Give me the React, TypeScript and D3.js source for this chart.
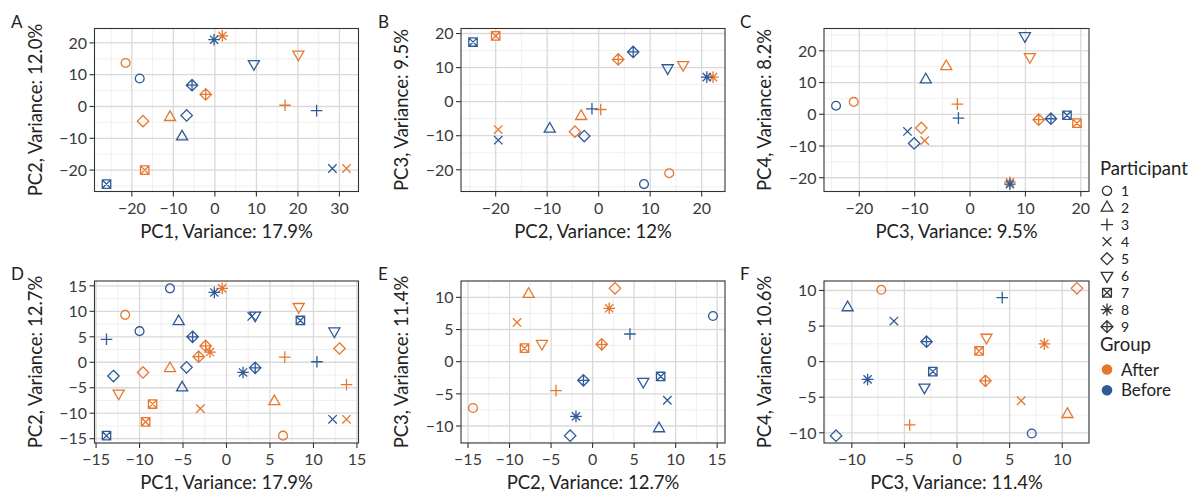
import React from 'react';
import * as d3 from 'd3';

// samples: participant 1..9, each with an After and a Before sample
const participant = [1, 1, 2, 2, 3, 3, 4, 4, 5, 5, 6, 6, 7, 7, 8, 8, 9, 9];
const group = ['After', 'Before', 'After', 'Before', 'After', 'Before', 'After', 'Before', 'After', 'Before',
    'After', 'Before', 'After', 'Before', 'After', 'Before', 'After', 'Before'];

// top row PCA
const topPC1 = [-21.5, -18.1, -10.8, -7.9, 16.9, 24.5, 31.7, 28.3, -17.3, -6.8, 20.1, 9.4, -16.9, -26.1, 1.8, -0.2, -2.2, -5.5];
const topPC2 = [13.7, 8.8, -3.4, -9.5, 0.4, -1.3, -19.5, -19.5, -4.6, -2.8, 16.4, 13.4, -20.0, -24.4, 22.2, 21.0, 3.8, 6.7];
const topPC3 = [-21.0, -24.2, -4.3, -8.0, -2.3, -2.1, -8.2, -11.3, -8.8, -10.1, 10.8, 9.9, 19.3, 17.5, 7.2, 7.2, 12.4, 14.6];
const topPC4 = [3.9, 2.7, 15.1, 10.9, 3.2, -1.2, -8.3, -5.4, -4.3, -9.2, 18.1, 24.7, -2.8, -0.3, -21.4, -22.0, -1.7, -1.4];

// bottom row PCA
const botPC1 = [6.5, -6.5, 5.5, -5.5, 13.8, -13.8, -3.0, 2.9, 13.0, -13.0, -12.4, 12.4, -8.5, 8.5, -1.9, 1.9, -3.2, 3.3];
const botPC2 = [-14.4, 14.5, -7.7, 8.0, -4.4, 4.5, -9.1, 9.0, 2.7, -2.7, -6.1, 6.1, -8.2, 8.2, 2.0, -2.0, 1.1, -1.1];
const botPC3 = [-7.2, 7.1, 10.5, -10.4, -4.5, 4.3, 6.1, -6.0, 11.4, -11.5, 2.8, -3.1, 2.1, -2.3, 8.3, -8.5, 2.7, -2.9];
const botPC4 = [10.1, -10.1, -7.4, 7.6, -8.9, 9.0, -5.5, 5.7, 10.3, -10.4, 3.4, -3.6, 1.5, -1.4, 2.5, -2.5, -2.7, 2.8];

// second set of samples shown in panel D only
const dExtraX = [-11.65, -10.0, -6.5, -5.1, 6.7, 10.4, 13.8, 12.2, -9.6, -4.6, 8.3, 3.3, -9.3, -13.8, -0.5, -1.4, -2.4, -3.9];
const dExtraY = [9.3, 6.1, -1.2, -5.0, 1.0, 0.1, -11.2, -11.2, -2.0, -1.0, 10.9, 9.2, -11.7, -14.4, 14.5, 13.7, 3.2, 5.0];

const ticks20 = [-20, -10, 0, 10, 20];
const ticksA = [-20, -10, 0, 10, 20, 30];
const ticks15 = [-15, -10, -5, 0, 5, 10, 15];
const ticks10 = [-10, -5, 0, 5, 10];

const groups = ['After', 'Before'];
const colors = {After: '#E8772E', Before: '#2E5A97'};
const FONT = "Lato, 'Open Sans', sans-serif";

function Marker({shape, x, y, color, k = 1}) {
    const c = 4.4 * k, t = 6.4 * k, p = 5.8 * k, q = 4.2 * k, d = 5.7 * k, s = 4.2 * k, a = 4.1 * k;
    const tw = t * 0.866, th = t / 2;
    let el;
    switch (shape) {
        case 1: el = <circle r={c}/>; break;
        case 2: el = <path d={`M0,${-t}L${tw},${th}L${-tw},${th}Z`}/>; break;
        case 3: el = <path d={`M${-p},0H${p}M0,${-p}V${p}`}/>; break;
        case 4: el = <path d={`M${-q},${-q}L${q},${q}M${-q},${q}L${q},${-q}`}/>; break;
        case 5: el = <path d={`M0,${-d}L${d},0L0,${d}L${-d},0Z`}/>; break;
        case 6: el = <path d={`M0,${t}L${tw},${-th}L${-tw},${-th}Z`}/>; break;
        case 7: el = <path d={`M${-s},${-s}H${s}V${s}H${-s}ZM${-s},${-s}L${s},${s}M${-s},${s}L${s},${-s}`}/>; break;
        case 8: el = <path d={`M${-p},0H${p}M0,${-p}V${p}M${-a},${-a}L${a},${a}M${-a},${a}L${a},${-a}`}/>; break;
        default: el = <path d={`M0,${-d}L${d},0L0,${d}L${-d},0ZM${-d},0H${d}M0,${-d}V${d}`}/>;
    }
    return (
        <g transform={`translate(${x},${y})`} fill="none" stroke={color} strokeWidth={1.3}>
            {el}
        </g>
    );
}

function paddedDomain(values) {
    const [lo, hi] = d3.extent(values);
    const pad = (hi - lo) * 0.05;
    return [lo - pad, hi + pad];
}

function minorTicks(ticks, domain) {
    const step = ticks[1] - ticks[0];
    return d3.range(ticks[0] - step / 2, ticks[ticks.length - 1] + step, step)
        .filter(v => v >= domain[0] && v <= domain[1]);
}

const fmt = v => (v < 0 ? '\u2212' + Math.abs(v) : String(v));

function Panel({cfg}) {
    const {left, right, top, bottom} = cfg;
    const allX = cfg.x.concat(cfg.extraX || []);
    const allY = cfg.y.concat(cfg.extraY || []);
    const xDom = paddedDomain(allX), yDom = paddedDomain(allY);
    const xScale = d3.scaleLinear().domain(xDom).range([left, right]);
    const yScale = d3.scaleLinear().domain(yDom).range([bottom, top]);
    const xMinor = minorTicks(cfg.xTicks, xDom);
    const yMinor = minorTicks(cfg.yTicks, yDom);
    const midY = (top + bottom) / 2, midX = (left + right) / 2;

    return (
        <g>
            <rect x={left} y={top} width={right - left} height={bottom - top} fill="#fff"/>
            {xMinor.map(v => <line key={'xm' + v} x1={xScale(v)} x2={xScale(v)} y1={top} y2={bottom} stroke="#ebebeb" strokeWidth={0.8}/>)}
            {yMinor.map(v => <line key={'ym' + v} y1={yScale(v)} y2={yScale(v)} x1={left} x2={right} stroke="#ebebeb" strokeWidth={0.8}/>)}
            {cfg.xTicks.map(v => <line key={'xg' + v} x1={xScale(v)} x2={xScale(v)} y1={top} y2={bottom} stroke="#d9d9d9" strokeWidth={1.3}/>)}
            {cfg.yTicks.map(v => <line key={'yg' + v} y1={yScale(v)} y2={yScale(v)} x1={left} x2={right} stroke="#d9d9d9" strokeWidth={1.3}/>)}
            {cfg.extraX && cfg.extraX.map((v, i) => (
                <Marker key={'e' + i} shape={participant[i]} x={xScale(v)} y={yScale(cfg.extraY[i])} color={colors[group[i]]}/>
            ))}
            {cfg.x.map((v, i) => (
                <Marker key={'p' + i} shape={participant[i]} x={xScale(v)} y={yScale(cfg.y[i])} color={colors[group[i]]}/>
            ))}
            <rect x={left} y={top} width={right - left} height={bottom - top} fill="none" stroke="#333" strokeWidth={1.1}/>
            {cfg.xTicks.map(v => (
                <g key={'xt' + v}>
                    <line x1={xScale(v)} x2={xScale(v)} y1={bottom} y2={bottom + 5} stroke="#333" strokeWidth={1.1}/>
                    <text x={xScale(v)} y={bottom + 22} textAnchor="middle" fontSize={16} fill="#3a3a3a">{fmt(v)}</text>
                </g>
            ))}
            {cfg.yTicks.map(v => (
                <g key={'yt' + v}>
                    <line x1={left - 5} x2={left} y1={yScale(v)} y2={yScale(v)} stroke="#333" strokeWidth={1.1}/>
                    <text x={left - 7.5} y={yScale(v)} dy="0.36em" textAnchor="end" fontSize={16} fill="#3a3a3a">{fmt(v)}</text>
                </g>
            ))}
            <text x={midX} y={bottom + 46} textAnchor="middle" fontSize={18.5} fill="#222">{cfg.xTitle}</text>
            <text transform={`translate(${left - 53},${midY}) rotate(-90)`} textAnchor="middle" fontSize={18.5} fill="#222">{cfg.yTitle}</text>
            <text x={cfg.letterX} y={top - 1} fontSize={17} fill="#222">{cfg.letter}</text>
        </g>
    );
}

const rowTop = {top: 28.5, bottom: 191.5};
const rowBot = {top: 281, bottom: 443};
const colA = {left: 94.5, right: 358.5};
const colB = {left: 461, right: 725};
const colC = {left: 824, right: 1089};

const panels = [
    {letter: 'A', letterX: 11, ...colA, ...rowTop, x: topPC1, y: topPC2, xTicks: ticksA, yTicks: ticks20,
        xTitle: 'PC1, Variance: 17.9%', yTitle: 'PC2, Variance: 12.0%'},
    {letter: 'B', letterX: 378, ...colB, ...rowTop, x: topPC2, y: topPC3, xTicks: ticks20, yTicks: ticks20,
        xTitle: 'PC2, Variance: 12%', yTitle: 'PC3, Variance: 9.5%'},
    {letter: 'C', letterX: 740, ...colC, ...rowTop, x: topPC3, y: topPC4, xTicks: ticks20, yTicks: ticks20,
        xTitle: 'PC3, Variance: 9.5%', yTitle: 'PC4, Variance: 8.2%'},
    {letter: 'D', letterX: 11, ...colA, ...rowBot, x: botPC1, y: botPC2, extraX: dExtraX, extraY: dExtraY,
        xTicks: ticks15, yTicks: ticks15, xTitle: 'PC1, Variance: 17.9%', yTitle: 'PC2, Variance: 12.7%'},
    {letter: 'E', letterX: 378, ...colB, ...rowBot, x: botPC2, y: botPC3, xTicks: ticks15, yTicks: ticks10,
        xTitle: 'PC2, Variance: 12.7%', yTitle: 'PC3, Variance: 11.4%'},
    {letter: 'F', letterX: 740, ...colC, ...rowBot, x: botPC3, y: botPC4, xTicks: ticks10, yTicks: ticks10,
        xTitle: 'PC3, Variance: 11.4%', yTitle: 'PC4, Variance: 10.6%'},
];

const legendShapes = [1, 2, 3, 4, 5, 6, 7, 8, 9];

function Legend() {
    const x0 = 1100, sx = 1107, tx = 1121;
    const y0 = 190.7, step = 17;
    return (
        <g>
            <text x={x0} y={175} fontSize={18.5} fill="#222">Participant</text>
            {legendShapes.map((s, i) => (
                <g key={s}>
                    <Marker shape={s} x={sx} y={y0 + i * step} color="#333" k={1.05}/>
                    <text x={tx} y={y0 + i * step} dy="0.36em" fontSize={14} fill="#222">{s}</text>
                </g>
            ))}
            <text x={x0} y={351} fontSize={18.5} fill="#222">Group</text>
            {groups.map((g, i) => (
                <g key={g}>
                    <circle cx={sx} cy={369.5 + i * 20.7} r={5.3} fill={colors[g]}/>
                    <text x={tx} y={369.5 + i * 20.7} dy="0.36em" fontSize={17} fill="#222">{g}</text>
                </g>
            ))}
        </g>
    );
}

export default function App() {
    return (
        <svg width={1201} height={494} style={{position: 'absolute', left: 0, top: 0, background: '#fff'}}
            fontFamily={FONT}>
            {panels.map(p => <Panel key={p.letter} cfg={p}/>)}
            <Legend/>
        </svg>
    );
}
